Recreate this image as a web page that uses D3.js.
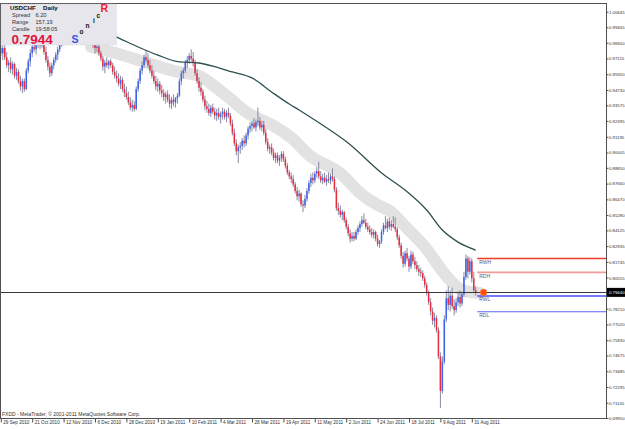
<!DOCTYPE html>
<html>
<head>
<meta charset="utf-8">
<script src="https://cdn.jsdelivr.net/npm/d3@7"></script>
<style>
    body { margin: 0; background: #fff; }
    svg { display: block; font-family: Arial, "Liberation Sans", sans-serif; }
</style>
</head>
<body>
<script>
'use strict';

// daily USDCHF candles, one value per bar, 29 Sep 2010 .. 2 Sep 2011
const opens = [
    .9790, .9750, .9790, .9720, .9660, .9680, .9630, .9670, .9580, .9610, .9540, .9500, .9540, .9480, .9620, .9690,
    .9750, .9800, .9780, .9830, .9860, .9810, .9840, .9760, .9700, .9650, .9600, .9660, .9700, .9740, .9780, .9830,
    .9860, .9880, .9920, .9900, .9940, .9910, .9950, .9980, .9960, 1.0010, .9990, 1.0020, 1.0040, 1.0010, .9940, .9860,
    .9820, .9790, .9800, .9750, .9710, .9650, .9680, .9660, .9690, .9660, .9610, .9580, .9560, .9520, .9550, .9480,
    .9450, .9420, .9380, .9340, .9360, .9330, .9480, .9540, .9620, .9660, .9720, .9700, .9660, .9620, .9580, .9540,
    .9500, .9520, .9470, .9450, .9420, .9440, .9400, .9370, .9400, .9380, .9410, .9430, .9540, .9600, .9620, .9680,
    .9700, .9730, .9710, .9680, .9600, .9540, .9490, .9460, .9400, .9350, .9330, .9300, .9340, .9310, .9280, .9300,
    .9270, .9290, .9310, .9270, .9300, .9280, .9220, .9150, .9070, .9010, .9040, .9050, .9090, .9070, .9130, .9180,
    .9200, .9220, .9190, .9230, .9240, .9190, .9210, .9150, .9080, .9030, .9040, .9000, .8960, .8980, .8940, .8960,
    .8990, .8950, .8900, .8850, .8820, .8800, .8760, .8710, .8670, .8690, .8610, .8600, .8650, .8710, .8770, .8810,
    .8790, .8840, .8860, .8820, .8790, .8810, .8780, .8800, .8790, .8820, .8800, .8720, .8580, .8560, .8530, .8550,
    .8490, .8440, .8390, .8350, .8370, .8350, .8400, .8430, .8460, .8490, .8470, .8440, .8420, .8400, .8380, .8400,
    .8350, .8310, .8330, .8400, .8450, .8430, .8480, .8440, .8460, .8440, .8420, .8360, .8300, .8220, .8160, .8240,
    .8200, .8140, .8230, .8180, .8150, .8120, .8100, .8090, .8050, .8000, .7940, .7870, .7800, .7730, .7750, .7660,
    .7460, .7200, .7420, .7740, .7900, .7850, .7920, .7840, .7810, .7870, .7910, .7860, .7930, .8060, .8200, .8100,
    .8180, .8050, .7960
];
const highs = [
    .9830, .9810, .9820, .9760, .9700, .9720, .9690, .9680, .9640, .9630, .9580, .9560, .9560, .9640, .9710, .9780,
    .9820, .9860, .9850, .9900, .9890, .9880, .9870, .9800, .9730, .9680, .9680, .9720, .9760, .9800, .9850, .9880,
    .9900, .9950, .9960, .9960, .9980, .9970, 1.0010, 1.0020, 1.0030, 1.0040, 1.0040, 1.0060, 1.0064, 1.0030, .9960, .9890,
    .9850, .9830, .9820, .9770, .9730, .9700, .9720, .9700, .9710, .9680, .9650, .9620, .9600, .9580, .9570, .9520,
    .9500, .9460, .9420, .9400, .9390, .9500, .9560, .9640, .9690, .9740, .9770, .9750, .9700, .9660, .9620, .9580,
    .9560, .9540, .9510, .9480, .9460, .9470, .9440, .9420, .9440, .9420, .9450, .9560, .9620, .9640, .9700, .9730,
    .9750, .9780, .9760, .9700, .9630, .9570, .9530, .9480, .9430, .9390, .9370, .9360, .9370, .9340, .9330, .9340,
    .9310, .9340, .9330, .9320, .9340, .9300, .9250, .9180, .9100, .9060, .9080, .9110, .9130, .9150, .9200, .9230,
    .9240, .9260, .9250, .9340, .9270, .9240, .9240, .9180, .9110, .9060, .9070, .9030, .9000, .9000, .8980, .9010,
    .9010, .8970, .8920, .8870, .8850, .8830, .8780, .8740, .8720, .8700, .8640, .8680, .8730, .8790, .8840, .8850,
    .8860, .8890, .8930, .8860, .8840, .8850, .8830, .8850, .8840, .8880, .8820, .8740, .8620, .8600, .8570, .8560,
    .8510, .8460, .8420, .8400, .8400, .8420, .8450, .8480, .8520, .8540, .8500, .8470, .8450, .8430, .8420, .8410,
    .8380, .8340, .8420, .8470, .8520, .8500, .8510, .8490, .8520, .8510, .8440, .8380, .8320, .8250, .8260, .8280,
    .8220, .8260, .8250, .8210, .8180, .8150, .8130, .8110, .8070, .8020, .7960, .7900, .7830, .7790, .7770, .7680,
    .7490, .7460, .7770, .7960, .7990, .7960, .7980, .7890, .7900, .7950, .7960, .7950, .8100, .8230, .8220, .8210,
    .8200, .8100, .7990
];
const lows = [
    .9730, .9700, .9700, .9640, .9610, .9600, .9590, .9560, .9550, .9520, .9470, .9450, .9460, .9470, .9600, .9650,
    .9720, .9760, .9740, .9790, .9780, .9790, .9740, .9680, .9620, .9570, .9580, .9630, .9680, .9700, .9760, .9800,
    .9810, .9850, .9870, .9880, .9890, .9880, .9920, .9930, .9940, .9970, .9960, .9990, .9990, .9920, .9840, .9790,
    .9750, .9760, .9730, .9690, .9620, .9600, .9640, .9630, .9640, .9590, .9560, .9530, .9500, .9480, .9460, .9420,
    .9400, .9360, .9320, .9310, .9310, .9320, .9460, .9520, .9590, .9640, .9680, .9640, .9600, .9560, .9520, .9470,
    .9460, .9440, .9420, .9390, .9370, .9380, .9340, .9330, .9350, .9340, .9370, .9420, .9510, .9560, .9600, .9640,
    .9670, .9690, .9650, .9580, .9520, .9460, .9430, .9380, .9320, .9300, .9280, .9270, .9290, .9250, .9240, .9250,
    .9220, .9250, .9250, .9230, .9260, .9200, .9130, .9050, .8980, .8920, .8990, .9020, .9040, .9050, .9100, .9150,
    .9160, .9180, .9160, .9200, .9170, .9160, .9130, .9060, .9010, .8990, .8980, .8940, .8920, .8920, .8900, .8930,
    .8930, .8880, .8830, .8800, .8770, .8740, .8690, .8640, .8630, .8590, .8550, .8580, .8630, .8690, .8740, .8760,
    .8770, .8810, .8800, .8770, .8760, .8770, .8750, .8770, .8760, .8780, .8700, .8560, .8530, .8510, .8490, .8470,
    .8420, .8370, .8320, .8330, .8330, .8340, .8380, .8400, .8440, .8460, .8420, .8400, .8380, .8360, .8350, .8330,
    .8290, .8280, .8310, .8380, .8420, .8400, .8420, .8410, .8430, .8400, .8340, .8280, .8200, .8130, .8140, .8180,
    .8100, .8120, .8160, .8120, .8100, .8070, .8060, .8030, .7980, .7920, .7850, .7770, .7700, .7680, .7640, .7440,
    .7070, .7180, .7400, .7720, .7810, .7800, .7820, .7770, .7790, .7840, .7830, .7840, .7910, .8040, .8050, .8080,
    .8020, .7940, .7920
];
const closes = [
    .9750, .9790, .9720, .9660, .9680, .9630, .9670, .9580, .9610, .9540, .9500, .9540, .9480, .9620, .9690, .9750,
    .9800, .9780, .9830, .9860, .9810, .9840, .9760, .9700, .9650, .9600, .9660, .9700, .9740, .9780, .9830, .9860,
    .9880, .9920, .9900, .9940, .9910, .9950, .9980, .9960, 1.0010, .9990, 1.0020, 1.0040, 1.0010, .9940, .9860, .9820,
    .9790, .9800, .9750, .9710, .9650, .9680, .9660, .9690, .9660, .9610, .9580, .9560, .9520, .9550, .9480, .9450,
    .9420, .9380, .9340, .9360, .9330, .9480, .9540, .9620, .9660, .9720, .9700, .9660, .9620, .9580, .9540, .9500,
    .9520, .9470, .9450, .9420, .9440, .9400, .9370, .9400, .9380, .9410, .9430, .9540, .9600, .9620, .9680, .9700,
    .9730, .9710, .9680, .9600, .9540, .9490, .9460, .9400, .9350, .9330, .9300, .9340, .9310, .9280, .9300, .9270,
    .9290, .9310, .9270, .9300, .9280, .9220, .9150, .9070, .9010, .9040, .9050, .9090, .9070, .9130, .9180, .9200,
    .9220, .9190, .9230, .9240, .9190, .9210, .9150, .9080, .9030, .9040, .9000, .8960, .8980, .8940, .8960, .8990,
    .8950, .8900, .8850, .8820, .8800, .8760, .8710, .8670, .8690, .8610, .8600, .8650, .8710, .8770, .8810, .8790,
    .8840, .8860, .8820, .8790, .8810, .8780, .8800, .8790, .8820, .8800, .8720, .8580, .8560, .8530, .8550, .8490,
    .8440, .8390, .8350, .8370, .8350, .8400, .8430, .8460, .8490, .8470, .8440, .8420, .8400, .8380, .8400, .8350,
    .8310, .8330, .8400, .8450, .8430, .8480, .8440, .8460, .8440, .8420, .8360, .8300, .8220, .8160, .8240, .8200,
    .8140, .8230, .8180, .8150, .8120, .8100, .8090, .8050, .8000, .7940, .7870, .7800, .7730, .7750, .7660, .7460,
    .7200, .7420, .7740, .7900, .7850, .7920, .7840, .7810, .7870, .7910, .7860, .7930, .8060, .8200, .8100, .8180,
    .8050, .7960, .7944
];

// gray "dragon" band (centre), read at a few bars
const bandIdx = [46, 59, 70, 81, 91, 101, 108, 118, 126, 137, 144, 150, 157, 166, 174, 182, 193, 199, 206, 217, 223, 230, 235, 244];
const bandVal = [0.9798, 0.9752, 0.9700, 0.9647, 0.9601, 0.9594, 0.9511, 0.9397, 0.9284, 0.9224, 0.9156, 0.9095,
    0.8967, 0.8906, 0.8846, 0.8695, 0.8589, 0.8566, 0.8438, 0.8287, 0.8136, 0.8015, 0.7947, 0.7940];

// slow moving average line
const emaIdx = [50, 59, 70, 80, 91, 101, 111, 118, 128, 138, 147, 152, 160, 177, 194, 206, 217, 225, 233, 242];
const emaVal = [0.9930, 0.9873, 0.9798, 0.9737, 0.9685, 0.9677, 0.9640, 0.9609, 0.9564, 0.9458, 0.9367, 0.9322,
    0.9246, 0.9072, 0.8846, 0.8717, 0.8566, 0.8415, 0.8324, 0.8264];

// weekly / daily pivot levels
const levelNames = ["RWH", "RDH", "RWL", "RDL"];
const levelVals = [0.8200, 0.8095, 0.7917, 0.7798];
const levelColors = ["#ee3b2b", "#f39a9a", "#4a4ef0", "#6064f0"];

const currentPrice = 0.7944;

// axis labels
const priceTicks = [1.00645, 0.99465, 0.98300, 0.97115, 0.95920, 0.94730, 0.93575, 0.92395, 0.91195, 0.90005,
    0.88850, 0.87660, 0.86470, 0.85280, 0.84125, 0.82935, 0.81745, 0.80555, 0.79380, 0.78210, 0.77020, 0.75830,
    0.74675, 0.73485, 0.72295, 0.71105, 0.69950];
const dateIdx = [0, 16, 32, 48, 64, 80, 96, 112, 128, 144, 160, 176, 192, 208, 224, 240];
const dateLabels = ["29 Sep 2010", "21 Oct 2010", "12 Nov 2010", "6 Dec 2010", "28 Dec 2010", "19 Jan 2011",
    "10 Feb 2011", "4 Mar 2011", "28 Mar 2011", "19 Apr 2011", "11 May 2011", "2 Jun 2011", "24 Jun 2011",
    "18 Jul 2011", "9 Aug 2011", "31 Aug 2011"];

// info panel
const infoRows = [["Spread", "6.20"], ["Range", "157.19"], ["Candle", "19:58:05"]];
const sonicLetters = ["S", "o", "n", "i", "c", "R"];

(function() {

    let svg = "";
    const W = 625, H = 429;
    const frame = { left: 0.5, top: 3.5, right: 606.5, bottom: 418.5 };

    window.onload = function() {
        svg = d3.select('body')
            .append('svg')
            .attr('width', W)
            .attr('height', H);

        // bar index -> x, price -> y
        const x = d3.scaleLinear().domain([0, 240]).range([0.8, 471.8]);
        const y = d3.scaleLinear().domain([0.69950, 1.00645]).range([418, 11.7]);

        svg.append('clipPath').attr('id', 'plot')
            .append('rect')
            .attr('x', frame.left).attr('y', frame.top)
            .attr('width', frame.right - frame.left).attr('height', frame.bottom - frame.top);

        const g = svg.append('g').attr('clip-path', 'url(#plot)');

        drawBand(g, x, y);
        drawCandles(g, x, y);
        drawEma(g, x, y);
        drawLevels(g, x, y);
        drawAxes(x, y);
        drawInfo();
    }

    // thick light gray band
    function drawBand(g, x, y) {
        const pts = bandIdx.map((d, i) => [d, bandVal[i]]);
        const line = d3.line()
            .x((d) => x(d[0]))
            .y((d) => y(d[1]))
            .curve(d3.curveBasis);
        g.append('path')
            .datum(pts)
            .attr('d', line)
            .attr('fill', 'none')
            .attr('stroke', '#e2e2e2')
            .attr('stroke-width', 12)
            .attr('stroke-linecap', 'round')
            .attr('stroke-linejoin', 'round');
    }

    // candles: wick then body
    function drawCandles(g, x, y) {
        const bars = closes.map((c, i) => ({ i: i, o: opens[i], h: highs[i], l: lows[i], c: c }));

        g.selectAll('.wick')
            .data(bars)
            .enter()
            .append('line')
            .attr('x1', (d) => x(d.i))
            .attr('x2', (d) => x(d.i))
            .attr('y1', (d) => y(d.h))
            .attr('y2', (d) => y(d.l))
            .attr('stroke', '#7c7c9c')
            .attr('stroke-width', 0.9);

        g.selectAll('.body')
            .data(bars)
            .enter()
            .append('rect')
            .attr('x', (d) => x(d.i) - 0.75)
            .attr('width', 1.5)
            .attr('y', (d) => y(Math.max(d.o, d.c)))
            .attr('height', (d) => Math.max(1, Math.abs(y(d.o) - y(d.c))))
            .attr('fill', (d) => d.c >= d.o ? '#3a64ee' : '#ee2a3a');
    }

    // slow average
    function drawEma(g, x, y) {
        const pts = emaIdx.map((d, i) => [d, emaVal[i]]);
        const line = d3.line()
            .x((d) => x(d[0]))
            .y((d) => y(d[1]))
            .curve(d3.curveMonotoneX);
        g.append('path')
            .datum(pts)
            .attr('d', line)
            .attr('fill', 'none')
            .attr('stroke', '#2f5050')
            .attr('stroke-width', 1.3);
    }

    // pivot lines, current price line and marker
    function drawLevels(g, x, y) {
        const x0 = x(242) + 1.5;

        g.append('line')
            .attr('x1', frame.left).attr('x2', frame.right)
            .attr('y1', Math.round(y(currentPrice)) + 0.5)
            .attr('y2', Math.round(y(currentPrice)) + 0.5)
            .attr('stroke', '#3a3a3a')
            .attr('stroke-width', 1);

        levelVals.forEach((v, i) => {
            g.append('line')
                .attr('x1', x0).attr('x2', frame.right)
                .attr('y1', y(v)).attr('y2', y(v))
                .attr('stroke', levelColors[i])
                .attr('stroke-width', i < 3 ? 1.6 : 1.1);

            g.append('text')
                .attr('x', x0 + 2)
                .attr('y', y(v) + 5.5)
                .style('font-size', '5px')
                .attr('fill', '#5a5a7a')
                .text(levelNames[i]);
        });

        g.append('circle')
            .attr('cx', x(246))
            .attr('cy', y(currentPrice))
            .attr('r', 3.3)
            .attr('fill', '#ff4a10')
            .attr('stroke', '#ff8a30')
            .attr('stroke-width', 0.6);
    }

    // frame, price axis on the right, dates along the bottom
    function drawAxes(x, y) {
        svg.append('rect')
            .attr('x', frame.left).attr('y', frame.top)
            .attr('width', frame.right - frame.left)
            .attr('height', frame.bottom - frame.top)
            .attr('fill', 'none')
            .attr('stroke', '#505050');

        const yAxis = d3.axisRight(y)
            .tickValues(priceTicks)
            .tickFormat(d3.format('.5f'))
            .tickSize(2)
            .tickPadding(0.5);
        const ya = svg.append('g')
            .attr('transform', 'translate(' + frame.right + ',0)')
            .call(yAxis);
        ya.select('.domain').remove();
        ya.selectAll('line').attr('stroke', '#505050');
        ya.selectAll('text')
            .style('font-size', '4.3px')
            .attr('fill', '#303030');

        const xAxis = d3.axisBottom(x)
            .tickValues(dateIdx)
            .tickFormat((d, i) => dateLabels[i])
            .tickSize(4)
            .tickPadding(0);
        const xa = svg.append('g')
            .attr('transform', 'translate(0,' + frame.bottom + ')')
            .call(xAxis);
        xa.select('.domain').remove();
        xa.selectAll('line').attr('stroke', '#505050');
        xa.selectAll('text')
            .attr('text-anchor', 'start')
            .attr('x', 2)
            .attr('y', 2.5)
            .style('font-size', '4.6px')
            .attr('fill', '#303030');

        // current bid label
        const cy = y(currentPrice);
        svg.append('rect')
            .attr('x', frame.right + 0.5).attr('y', cy - 4.5)
            .attr('width', 18.5).attr('height', 9)
            .attr('fill', '#000');
        svg.append('text')
            .attr('x', frame.right + 2.5).attr('y', cy + 1.6)
            .style('font-size', '4.3px')
            .attr('fill', '#fff')
            .text(d3.format('.5f')(currentPrice));

        svg.append('text')
            .attr('x', 2).attr('y', 415.5)
            .style('font-size', '5px')
            .attr('fill', '#303030')
            .text('FXDD - MetaTrader, \u00a9 2001-2011 MetaQuotes Software Corp.');
    }

    // top-left info panel with Sonic R logo
    function drawInfo() {
        const p = svg.append('g');
        p.append('rect')
            .attr('x', 1).attr('y', 4)
            .attr('width', 115.5).attr('height', 41)
            .attr('fill', '#e6e6ec')
            .attr('stroke', '#cfcfd8')
            .attr('stroke-dasharray', '1,1')
            .attr('stroke-width', 0.6);

        p.append('text')
            .attr('x', 10).attr('y', 10)
            .style('font-size', '6.2px')
            .style('font-weight', 'bold')
            .attr('fill', '#111')
            .text('USDCHF');
        p.append('text')
            .attr('x', 43).attr('y', 10)
            .style('font-size', '6.2px')
            .style('font-weight', 'bold')
            .attr('fill', '#111')
            .text('Daily');

        infoRows.forEach((r, i) => {
            p.append('text')
                .attr('x', 12).attr('y', 17 + i * 6.8)
                .style('font-size', '5.6px')
                .attr('fill', '#333')
                .text(r[0]);
            p.append('text')
                .attr('x', 35.5).attr('y', 17 + i * 6.8)
                .style('font-size', '5.6px')
                .attr('fill', '#333')
                .text(r[1]);
        });

        p.append('text')
            .attr('x', 11.5).attr('y', 43.5)
            .style('font-size', '13.5px')
            .style('font-weight', 'bold')
            .attr('fill', '#e0143c')
            .text(d3.format('.4f')(currentPrice));

        // letters climbing up to the right
        const lx = [71.5, 79.5, 85.5, 93, 96.5, 100.5];
        const ly = [43, 34, 28, 23, 17.5, 12];
        const lsize = [10.5, 6.5, 6.5, 6.5, 6.5, 10.5];
        const lcol = ['#3355e0', '#111', '#111', '#111', '#111', '#ee1c2c'];
        sonicLetters.forEach((s, i) => {
            p.append('text')
                .attr('x', lx[i]).attr('y', ly[i])
                .style('font-size', lsize[i] + 'px')
                .style('font-weight', 'bold')
                .attr('fill', lcol[i])
                .text(s);
        });
    }

})();
</script>
</body>
</html>
